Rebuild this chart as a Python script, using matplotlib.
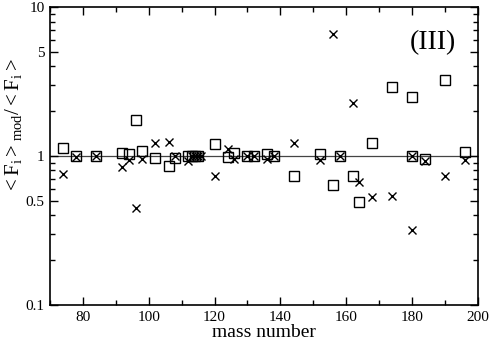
import numpy as np
import matplotlib
matplotlib.use('Agg')
import matplotlib.pyplot as plt
from matplotlib.ticker import FixedLocator, NullFormatter

plt.rcParams['font.family'] = ['Liberation Serif', 'DejaVu Serif']
plt.rcParams['mathtext.fontset'] = 'custom'
plt.rcParams['mathtext.rm'] = 'Liberation Serif'
plt.rcParams['mathtext.it'] = 'Liberation Serif'

# squares
sq_mass = [74, 78, 84, 92, 94, 96, 98, 102, 106, 108, 112, 113, 114, 115,
           120, 124, 126, 130, 132, 136, 138, 144, 152, 156, 158, 162, 164,
           168, 174, 180, 180, 184, 190, 196]
sq_val = [1.13, 1.0, 1.0, 1.05, 1.04, 1.74, 1.08, 0.97, 0.86, 0.97, 1.0, 1.0,
          1.0, 1.0, 1.2, 0.99, 1.05, 1.0, 1.0, 1.03, 1.0, 0.73, 1.04, 0.64,
          1.0, 0.73, 0.49, 1.22, 2.89, 2.5, 1.0, 0.96, 3.24, 1.06]

# crosses
cr_mass = [74, 78, 84, 92, 94, 96, 98, 102, 106, 108, 112, 113, 114, 115,
           116, 120, 124, 126, 130, 132, 136, 138, 144, 152, 156, 158, 162,
           164, 168, 174, 180, 180, 184, 190, 196]
cr_val = [0.76, 0.98, 1.0, 0.85, 0.94, 0.45, 0.95, 1.22, 1.25, 1.0, 0.93,
          1.0, 1.0, 1.0, 1.0, 0.74, 1.11, 0.96, 1.0, 1.0, 0.95, 1.0, 1.22,
          0.94, 6.6, 1.0, 2.28, 0.67, 0.53, 0.54, 1.0, 0.32, 0.93, 0.73, 0.94]

fig = plt.figure(figsize=(4.91, 3.40), dpi=100)
ax = fig.add_axes([0.102, 0.103, 0.871, 0.876])

ax.axhline(1.0, color='#444444', lw=0.9, zorder=1)
ax.plot(sq_mass, sq_val, 's', ms=7.5, mfc='none', mec='black', mew=1.0, zorder=3)
ax.plot(cr_mass, cr_val, 'x', ms=6, color='black', mew=1.0, zorder=3)

ax.set_yscale('log')
ax.set_xlim(70, 200)
ax.set_ylim(0.1, 10)

ax.xaxis.set_major_locator(FixedLocator([80, 100, 120, 140, 160, 180, 200]))
ax.xaxis.set_minor_locator(FixedLocator([70, 90, 110, 130, 150, 170, 190]))
ax.yaxis.set_major_locator(FixedLocator([0.1, 0.5, 1, 5, 10]))
ax.yaxis.set_minor_locator(FixedLocator([0.2, 0.3, 0.4, 0.6, 0.7, 0.8, 0.9,
                                         2, 3, 4, 6, 7, 8, 9]))
ax.yaxis.set_minor_formatter(NullFormatter())
ax.set_yticklabels(['0.1', '0.5', '1', '5', '10'])

ax.tick_params(which='both', direction='in', top=True, right=True,
               labelsize=11, width=1.0)
ax.tick_params(which='major', length=6, pad=4)
ax.tick_params(which='minor', length=3.5)
for s in ax.spines.values():
    s.set_linewidth(1.2)

ax.set_xlabel('mass number', fontsize=14, labelpad=0)
ax.set_ylabel(r'$\mathregular{<F_i>_{mod}/<F_i>}$', fontsize=15)
ax.yaxis.set_label_coords(-0.06, 0.6)

ax.text(0.895, 0.88, '(III)', transform=ax.transAxes, fontsize=20,
        ha='center', va='center')

fig.savefig('out.png', dpi=100)
